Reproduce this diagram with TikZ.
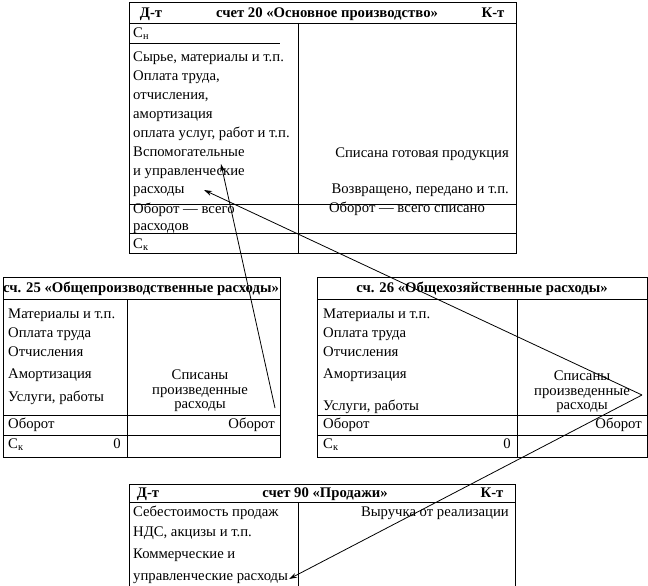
\documentclass[tikz,border=0pt]{standalone}
\usepackage{fontspec}
\setmainfont{Liberation Serif}
\usetikzlibrary{arrows.meta, positioning}

\begin{document}
\begin{tikzpicture}[
                x=1pt, y=-1pt,
                every node/.style={inner sep=0pt, text height=10pt, text depth=3pt,
                  font=\fontsize{14.7}{14.5}\selectfont},
                lt/.style={anchor=west},
                rt/.style={anchor=east},
                ml/.style={align=center, text height=, text depth=},
                hd/.style={font=\fontsize{14.7}{15}\selectfont\bfseries},
                frame/.style={line width=1pt},
                rule/.style={line width=0.7pt},
                >={Stealth[length=8pt, width=5pt]}
            ]
            \useasboundingbox (0,0) rectangle (648,586);

            % счет 20
            \draw[frame] (129,3) rectangle (516,253);
            \draw[rule] (129,23) -- (516,23);
            \draw[rule] (298,23) -- (298,253);
            \draw[rule] (129,43) -- (280,43);
            \draw[rule] (129,204) -- (516,204);
            \draw[rule] (129,233) -- (516,233);

            \node (dt20) [hd] at (151,14) {Д-т};
            \node (t20) [hd] at (327,14) {счет 20 «Основное производство»};
            \node (kt20) [hd] at (493,14) {К-т};
            \node (sn20) [lt] at (133,34) {С\textsubscript{н}};
            \node (d1) [lt] at (133,58) {Сырье, материалы и т.п.};
            \node (d2) [lt] at (133,77) {Оплата труда,};
            \node (d3) [lt] at (133,96) {отчисления,};
            \node (d4) [lt] at (133,115) {амортизация};
            \node (d5) [lt] at (133,134) {оплата услуг, работ и т.п.};
            \node (d6) [lt] at (133,153) {Вспомогательные};
            \node (d7) [lt] at (133,172) {и управленческие};
            \node (d8) [lt] at (133,190) {расходы};
            \node (c1) [rt] at (509,154) {Списана готовая продукция};
            \node (c2) [rt] at (509,190) {Возвращено, передано и т.п.};
            \node (ob20) [lt] at (133,210) {Оборот — всего};
            \node (ob20b) [lt] at (133,227) {расходов};
            \node (obc20) at (407,209) {Оборот — всего списано};
            \node (sk20) [lt] at (133,245) {С\textsubscript{к}};

            % сч. 25
            \draw[frame] (3,277) rectangle (280,457);
            \draw[rule] (3,299) -- (280,299);
            \draw[rule] (127,299) -- (127,457);
            \draw[rule] (3,415) -- (280,415);
            \draw[rule] (3,435) -- (280,435);

            \node (t25) [hd] at (141,289) {сч. 25 «Общепроизводственные расходы»};
            \node (a1) [lt] at (8,315) {Материалы и т.п.};
            \node (a2) [lt] at (8,334) {Оплата труда};
            \node (a3) [lt] at (8,353) {Отчисления};
            \node (a4) [lt] at (8,375) {Амортизация};
            \node (a5) [lt] at (8,398) {Услуги, работы};
            \node (sp25) [ml] at (200,391) {Списаны\\произведенные\\расходы};
            \node (ob25) [lt] at (8,425) {Оборот};
            \node (obc25) [rt] at (275,425) {Оборот};
            \node (sk25) [lt] at (8,445) {С\textsubscript{к}};
            \node (z25) [rt] at (121,445) {0};

            % сч. 26
            \draw[frame] (317,277) rectangle (647,457);
            \draw[rule] (317,299) -- (647,299);
            \draw[rule] (517,299) -- (517,457);
            \draw[rule] (317,415) -- (647,415);
            \draw[rule] (317,435) -- (647,435);

            \node (t26) [hd] at (482,289) {сч. 26 «Общехозяйственные расходы»};
            \node (b1) [lt] at (323,315) {Материалы и т.п.};
            \node (b2) [lt] at (323,334) {Оплата труда};
            \node (b3) [lt] at (323,353) {Отчисления};
            \node (b4) [lt] at (323,375) {Амортизация};
            \node (b5) [lt] at (323,407) {Услуги, работы};
            \node (sp26) [ml] at (582,392) {Списаны\\произведенные\\расходы};
            \node (ob26) [lt] at (323,425) {Оборот};
            \node (obc26) [rt] at (642,425) {Оборот};
            \node (sk26) [lt] at (323,445) {С\textsubscript{к}};
            \node (z26) [rt] at (511,445) {0};

            % счет 90
            \draw[frame] (129,586) -- (129,484) -- (515,484) -- (515,586);
            \draw[rule] (129,502) -- (515,502);
            \draw[rule] (298,502) -- (298,586);

            \node (dt90) [hd] at (148,494) {Д-т};
            \node (t90) [hd] at (325,494) {счет 90 «Продажи»};
            \node (kt90) [hd] at (492,494) {К-т};
            \node (e1) [lt] at (133,513) {Себестоимость продаж};
            \node (e2) [lt] at (133,533) {НДС, акцизы и т.п.};
            \node (e3) [lt] at (133,555) {Коммерческие и};
            \node (e4) [lt] at (133,577) {управленческие расходы};
            \node (f1) [rt] at (509,513) {Выручка от реализации};

            % проводки
            \coordinate (s25) at (275,408);
            \coordinate (v26) at (642,395);
            \coordinate (h1) at (221,164);
            \coordinate (h2) at (204,190);
            \coordinate (h3) at (289,579);
            \draw[->, line width=0.8pt] (s25) -- (h1);
            \draw[->, line width=0.8pt] (v26) -- (h2);
            \draw[->, line width=0.8pt] (v26) -- (h3);

        \end{tikzpicture}
\end{document}
